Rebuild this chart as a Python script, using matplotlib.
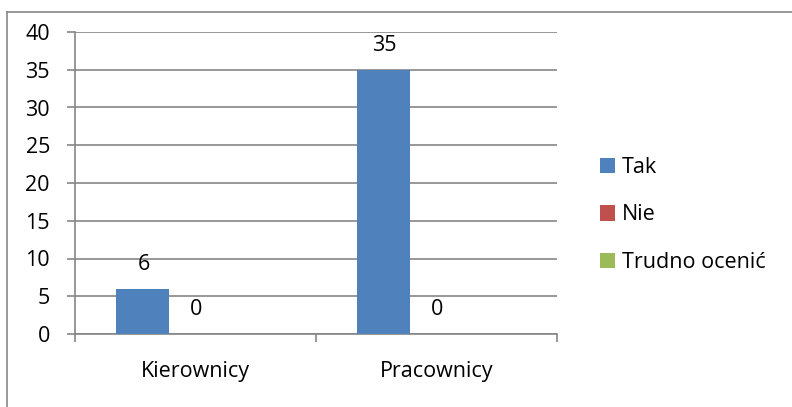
import numpy as np
import matplotlib
matplotlib.use("Agg")
import matplotlib.pyplot as plt
from matplotlib.lines import Line2D

plt.rcParams['font.family'] = ['Open Sans', 'DejaVu Sans']
FS = 15.5

categories = ["Kierownicy", "Pracownicy"]
series_names = ["Tak", "Nie", "Trudno ocenić"]
tak = [6, 35]
nie = [0, 0]
trudno = [np.nan, np.nan]
series_values = [tak, nie, trudno]
colors = ["#4F81BD", "#C0504D", "#9BBB59"]
yticks = [0, 5, 10, 15, 20, 25, 30, 35, 40]

W, H, DPI = 792, 407, 100
PT = 72 / DPI
fig = plt.figure(figsize=(W / DPI, H / DPI), dpi=DPI)
fig.patch.set_facecolor("white")

# chart frame (left and top edges)
grey = "#868686"
fig.add_artist(Line2D([6.5 / W, 6.5 / W], [0, 1 - 12 / H], color=grey, lw=1.2, transform=fig.transFigure))
fig.add_artist(Line2D([6.5 / W, 1.0], [1 - 12 / H, 1 - 12 / H], color=grey, lw=1.2, transform=fig.transFigure))

ax = fig.add_axes([75 / W, 1 - 334 / H, (557 - 75) / W, (334 - 32) / H])

x = np.arange(len(categories))
bw = 53 / 241
offsets = [-bw, 0, bw]
for vals, name, col, off in zip(series_values, series_names, colors, offsets):
    vals = np.asarray(vals, dtype=float)
    ax.bar(x + off, np.nan_to_num(vals), width=bw, color=col, label=name, zorder=3)
    for xi, v in zip(x + off, vals):
        if not np.isnan(v):
            ax.annotate(f"{v:g}", (xi, v), xytext=(1 * PT, 24.5 * PT), textcoords="offset points",
                        ha="center", va="center", fontsize=FS, color="black", zorder=4)

ax.set_xlim(-0.5, len(categories) - 0.5)
ax.set_ylim(0, 40)
ax.set_yticks(yticks)
ax.set_yticklabels([str(t) for t in yticks])
ax.yaxis.grid(True, color=grey, lw=1.2, zorder=0)
ax.set_axisbelow(True)

ax.set_xticks(x)
ax.set_xticklabels(categories)
ax.set_xticks(np.arange(len(categories) + 1) - 0.5, minor=True)
ax.tick_params(axis="x", which="major", length=0, pad=27 * PT, labelsize=FS)
ax.tick_params(axis="x", which="minor", length=8 * PT, width=1.2, color=grey, direction="out")
ax.tick_params(axis="y", length=8 * PT, width=1.2, color=grey, pad=17 * PT, labelsize=FS)

for s in ["top", "right"]:
    ax.spines[s].set_visible(False)
for s in ["left", "bottom"]:
    ax.spines[s].set_color(grey)
    ax.spines[s].set_linewidth(1.2)

leg = fig.legend(loc="center left", bbox_to_anchor=(600 / W, 1 - 215 / H), frameon=False,
                 fontsize=FS, handlelength=0.7, handleheight=0.7, handletextpad=0.3,
                 labelspacing=1.22, borderpad=0, borderaxespad=0)

fig.savefig("out.png", dpi=DPI)
